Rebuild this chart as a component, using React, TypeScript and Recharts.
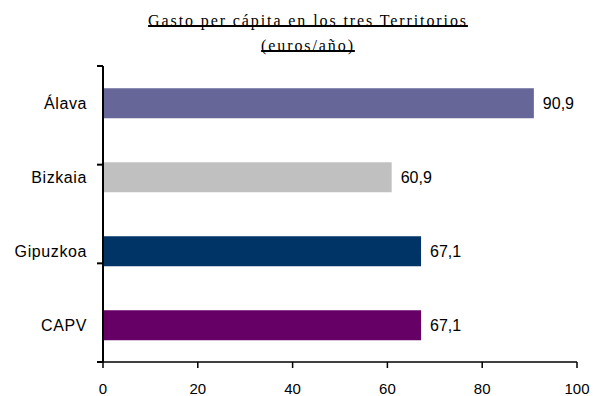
import React from 'react';
import { BarChart, Bar, XAxis, YAxis, Cell, LabelList } from 'recharts';

const territories = ['Álava', 'Bizkaia', 'Gipuzkoa', 'CAPV'];
const gasto = [90.9, 60.9, 67.1, 67.1];
const barColors = ['#666699', '#C0C0C0', '#003366', '#660066'];
const xTicks = [0, 20, 40, 60, 80, 100];
const frameTicks = [0, 1, 2, 3, 4];

const data = territories.map((name, i) => ({ name, value: gasto[i] }));

const fmt = (v: number) => v.toFixed(1).replace('.', ',');

const App: React.FC = () => {
  const axisColor = '#000000';
  const textColor = '#000000';

  return (
    <div style={{ position: 'absolute', left: 0, top: 0, width: 594, height: 396, background: '#fff' }}>
      <div
        style={{
          position: 'absolute',
          left: 8,
          top: 8,
          width: 600,
          textAlign: 'center',
          fontFamily: '"Liberation Serif", "Times New Roman", serif',
          fontSize: 16,
          lineHeight: '25px',
          letterSpacing: 1.9,
          color: '#000',
          textDecoration: 'underline',
          textDecorationThickness: '2px',
          textUnderlineOffset: '-1px',
          textDecorationSkipInk: 'none',
        }}
      >
        Gasto per cápita en los tres Territorios
        <br />
        (euros/año)
      </div>
      <BarChart
        width={594}
        height={396}
        data={data}
        layout="vertical"
        margin={{ top: 66, right: 17, bottom: 0, left: 0 }}
        barCategoryGap="30%"
      >
        <XAxis
          type="number"
          domain={[0, 100]}
          ticks={xTicks}
          height={34}
          stroke={axisColor}
          strokeWidth={1.5}
          tickSize={6}
          tickMargin={15}
          tick={{ fill: textColor, fontSize: 15, fontFamily: '"Liberation Sans", Arial, sans-serif' }}
        />
        {/* category labels only */}
        <YAxis
          yAxisId="b"
          type="category"
          dataKey="name"
          width={102}
          axisLine={false}
          tickLine={false}
          tickSize={6}
          tickMargin={9}
          tick={{ fill: textColor, fontSize: 16, letterSpacing: 0.6, fontFamily: '"Liberation Sans", Arial, sans-serif' }}
        />
        {/* axis line with tick marks between the categories */}
        <YAxis
          yAxisId="a"
          type="number"
          domain={[0, 4]}
          ticks={frameTicks}
          width={1}
          tickFormatter={() => ''}
          tickSize={6}
          stroke={axisColor}
          strokeWidth={2}
        />
        <Bar dataKey="value" yAxisId="b" isAnimationActive={false}>
          {data.map((d, i) => (
            <Cell key={d.name} fill={barColors[i]} />
          ))}
          <LabelList
            dataKey="value"
            position="right"
            offset={9}
            formatter={(v: any) => fmt(Number(v))}
            style={{ fill: textColor, fontSize: 16, fontFamily: '"Liberation Sans", Arial, sans-serif' }}
          />
        </Bar>
      </BarChart>
    </div>
  );
};

export default App;
